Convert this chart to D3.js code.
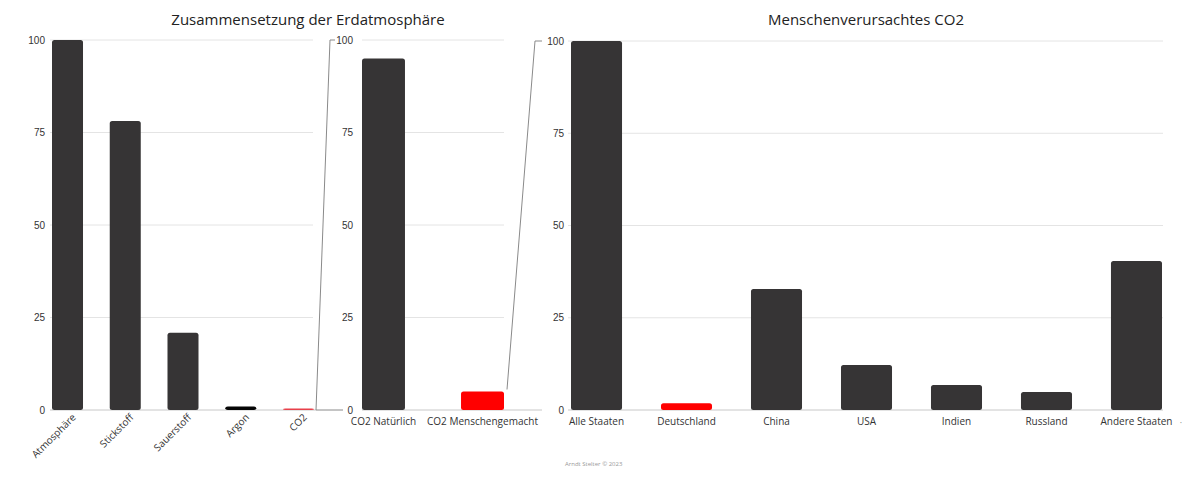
<!DOCTYPE html>
<html>
<head>
<meta charset="utf-8">
<script src="https://cdn.jsdelivr.net/npm/d3@7"></script>
<style>
  body { margin: 0; background: #fff; }
  svg { display: block; font-family: "Open Sans", sans-serif; }
  .tick text { fill: #333; }
</style>
</head>
<body>
<svg id="vis" width="1200" height="484"></svg>
<script>
// panel 1: composition of the atmosphere
var atmoNames = ['Atmosphäre', 'Stickstoff', 'Sauerstoff', 'Argon', 'CO2'];
var atmoValues = [100, 78.1, 20.9, 0.93, 0.04];
var atmoColors = ['#363435', '#363435', '#363435', '#050505', '#e8404a'];

// panel 2: CO2 split
var co2Names = ['CO2 Natürlich', 'CO2 Menschengemacht'];
var co2Values = [95, 5];
var co2Colors = ['#363435', '#ff0000'];

// panel 3: man-made CO2 by country
var countryNames = ['Alle Staaten', 'Deutschland', 'China', 'USA', 'Indien', 'Russland', 'Andere Staaten'];
var countryValues = [100, 1.8, 32.8, 12.2, 6.8, 4.9, 40.4];
var countryColors = ['#363435', '#ff0000', '#363435', '#363435', '#363435', '#363435', '#363435'];

var yTicks = [0, 25, 50, 75, 100];

var svg = d3.select('#vis');

function panel(opts) {
    var g = svg.append('g');

    var x = d3.scaleBand()
        .domain(opts.names)
        .range(opts.xRange)
        .paddingInner(opts.pad)
        .paddingOuter(0);

    var y = d3.scaleLinear().domain([0, 100]).range([410, opts.yTop]);

    // gridlines
    g.selectAll('.grid')
        .data(yTicks.filter(function(d){ return d > 0; }))
        .enter().append('line')
        .attr('x1', opts.grid[0]).attr('x2', opts.grid[1])
        .attr('y1', function(d){ return y(d); })
        .attr('y2', function(d){ return y(d); })
        .attr('stroke', '#e4e4e4').attr('stroke-width', 1);

    // baseline
    g.append('line')
        .attr('x1', opts.base[0]).attr('x2', opts.base[1])
        .attr('y1', y(0)).attr('y2', y(0))
        .attr('stroke', '#c8c8c8').attr('stroke-width', 1);

    // y axis labels
    var yAxis = d3.axisLeft(y).tickValues(yTicks).tickSize(0).tickPadding(0);
    var ya = g.append('g')
        .attr('transform', 'translate(' + opts.yLabelX + ',0)')
        .call(yAxis);
    ya.select('.domain').remove();
    ya.selectAll('text').attr('font-size', 10).attr('fill', '#444');

    // bars
    g.selectAll('.bar')
        .data(opts.values)
        .enter().append('rect')
        .attr('x', function(d, i){ return x(opts.names[i]); })
        .attr('width', x.bandwidth())
        .attr('y', function(d){ return Math.min(y(d), y(0) - 1.5); })
        .attr('height', function(d){ return Math.max(y(0) - y(d), 1.5); })
        .attr('rx', 2.5)
        .attr('fill', function(d, i){ return opts.colors[i]; });

    // x labels
    var xl = g.selectAll('.xl')
        .data(opts.names)
        .enter().append('text')
        .attr('font-size', 10)
        .attr('fill', '#333')
        .text(function(d){ return d; });

    if (opts.rotate) {
        xl.attr('text-anchor', 'end')
          .attr('transform', function(d){
              return 'translate(' + (x(d) + x.bandwidth() / 2 + 9) + ',418) rotate(-45)';
          });
    } else {
        xl.attr('text-anchor', 'middle')
          .attr('x', function(d){ return x(d) + x.bandwidth() / 2; })
          .attr('y', 425);
    }

    if (opts.title) {
        svg.append('text')
            .attr('x', opts.title[1]).attr('y', 25)
            .attr('text-anchor', 'middle')
            .attr('font-size', 15)
            .attr('fill', '#222')
            .text(opts.title[0]);
    }
    return {x: x, y: y};
}

var p1 = panel({
    names: atmoNames, values: atmoValues, colors: atmoColors,
    xRange: [52, 314], pad: 0.463, yTop: 40,
    grid: [50, 313], base: [50, 316], yLabelX: 45, rotate: true,
    title: ['Zusammensetzung der Erdatmosphäre', 308]
});

var p2 = panel({
    names: co2Names, values: co2Values, colors: co2Colors,
    xRange: [362, 504], pad: 0.566, yTop: 40,
    grid: [362, 504], base: [362, 542], yLabelX: 353, rotate: false
});

var p3 = panel({
    names: countryNames, values: countryValues, colors: countryColors,
    xRange: [571, 1162], pad: 0.433, yTop: 41,
    grid: [568, 1163], base: [568, 1163], yLabelX: 564, rotate: false,
    title: ['Menschenverursachtes CO2', 866]
});

// zoom connector: CO2 bar (panel 1) -> panel 2
var c1x = p1.x('CO2') + p1.x.bandwidth() + 2;
svg.append('path')
    .attr('d', 'M343,' + p2.y(0) + 'H' + c1x + 'L330,' + p2.y(100) + 'H335')
    .attr('fill', 'none').attr('stroke', '#8a8a8a').attr('stroke-width', 1);

// zoom connector: man-made CO2 bar (panel 2) -> panel 3
var c2x = p2.x('CO2 Menschengemacht') + p2.x.bandwidth() + 3;
svg.append('path')
    .attr('d', 'M' + c2x + ',' + (p2.y(co2Values[1]) - 2) + 'L535,' + p3.y(100) + 'H542')
    .attr('fill', 'none').attr('stroke', '#8a8a8a').attr('stroke-width', 1);

// small mark at the right
svg.append('text')
    .attr('x', 1181).attr('y', 426)
    .attr('font-size', 9).attr('fill', '#888')
    .attr('text-anchor', 'middle')
    .text('·');

// footer
svg.append('text')
    .attr('x', 565).attr('y', 466)
    .attr('font-size', 6)
    .attr('fill', '#999')
    .text('Arndt Stelter © 2023');
</script>
</body>
</html>
